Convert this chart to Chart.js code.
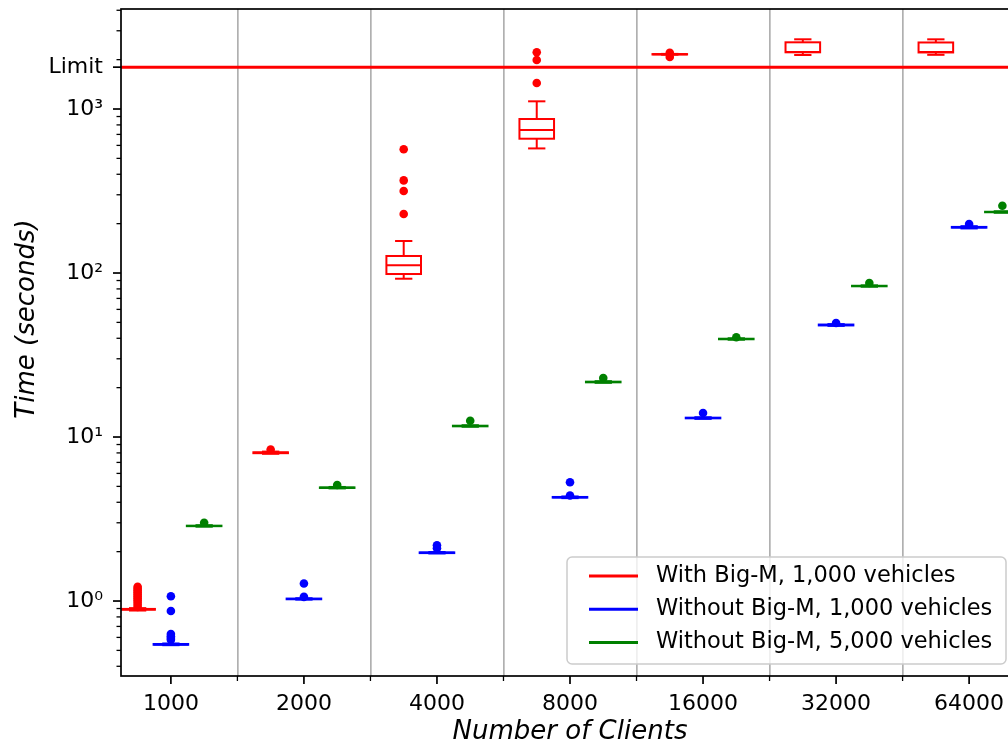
<!DOCTYPE html>
<html>
<head>
<meta charset="utf-8">
<script src="https://cdn.jsdelivr.net/npm/chart.js@4.4.0/dist/chart.umd.min.js"></script>
<style>
  html, body { margin: 0; padding: 0; overflow: hidden; background: #fff; }
  #wrap { width: 1030px; height: 748px; }
</style>
</head>
<body>
<div id="wrap"><canvas id="chart" width="1030" height="748"></canvas></div>
<script>
const clients = ['1000', '2000', '4000', '8000', '16000', '32000', '64000'];
const seriesLabels = ['With Big-M, 1,000 vehicles', 'Without Big-M, 1,000 vehicles', 'Without Big-M, 5,000 vehicles'];
const seriesColors = ['#ff0000', '#0000ff', '#008000'];

// box stats per client count: [whisker low, q1, median, q3, whisker high]
const bigM1000Boxes = [
  [0.875, 0.885, 0.89, 0.895, 0.905],
  [7.9, 7.97, 8.02, 8.07, 8.15],
  [92.3, 98.6, 111.4, 127, 156.7],
  [575, 659, 745, 869, 1114],
  [2145, 2150, 2156, 2162, 2168],
  [2135, 2217, 2230, 2551, 2661],
  [2140, 2212, 2225, 2545, 2660]
];
const noBigM1000Boxes = [
  [0.538, 0.541, 0.544, 0.547, 0.551],
  [1.02, 1.025, 1.03, 1.035, 1.04],
  [1.95, 1.96, 1.97, 1.98, 1.99],
  [4.24, 4.27, 4.29, 4.31, 4.34],
  [12.9, 13.0, 13.06, 13.12, 13.2],
  [47.6, 47.9, 48.2, 48.5, 48.8],
  [187, 189, 190, 191, 193]
];
const noBigM5000Boxes = [
  [2.84, 2.86, 2.87, 2.88, 2.9],
  [4.86, 4.89, 4.91, 4.93, 4.96],
  [11.55, 11.62, 11.67, 11.72, 11.8],
  [21.4, 21.55, 21.65, 21.75, 21.9],
  [39.2, 39.45, 39.6, 39.75, 40.0],
  [82.5, 83.0, 83.3, 83.6, 84.1],
  [233, 234.7, 235.5, 236.3, 238]
];

// outliers (fliers) per client count
const bigM1000Outliers = [
  [0.92, 0.95, 0.98, 1.01, 1.04, 1.07, 1.10, 1.13, 1.16, 1.19, 1.22],
  [8.4],
  [229, 316, 367, 568],
  [1442, 1990, 2218],
  [2200, 2075],
  [],
  []
];
const noBigM1000Outliers = [
  [1.07, 0.87, 0.63, 0.61, 0.595, 0.58],
  [1.28, 1.06],
  [2.19, 2.1],
  [5.3, 4.4],
  [14.0],
  [49.6],
  [199]
];
const noBigM5000Outliers = [
  [3.0], [5.1], [12.57], [22.9], [40.6], [86.9], [257]
];

const limitValue = 1800;
const limitLabel = 'Limit';
const yMajorTicks = [1, 10, 100, 1000];
const yMajorLabels = ['10⁰', '10¹', '10²', '10³'];
const yMin = 0.349, yMax = 4072;

const allBoxes = [bigM1000Boxes, noBigM1000Boxes, noBigM5000Boxes];
const allOutliers = [bigM1000Outliers, noBigM1000Outliers, noBigM5000Outliers];
const offsets = [-0.25, 0, 0.25];
const boxHalf = 0.13;

const yTickValues = [];
for (let e = -1; e <= 3; e++) {
  for (let m = 1; m <= 9; m++) {
    const v = m * Math.pow(10, e);
    if (v >= yMin && v <= yMax) yTickValues.push(v);
  }
}
yTickValues.push(limitValue);

const xTickValues = [];
clients.forEach((c, i) => {
  xTickValues.push(i);
  if (i < clients.length - 1) xTickValues.push(i + 0.5);
});

Chart.defaults.font.family = "'DejaVu Sans', sans-serif";
Chart.defaults.color = '#000';

const datasets = allOutliers.map((groups, s) => ({
  label: seriesLabels[s],
  data: groups.flatMap((vals, i) => vals.map(v => ({ x: i + offsets[s], y: v }))),
  pointRadius: 4.3,
  pointHoverRadius: 4.3,
  pointBackgroundColor: seriesColors[s],
  pointBorderWidth: 0,
  showLine: false
}));

function seg(ctx, x1, y1, x2, y2) {
  ctx.beginPath();
  ctx.moveTo(x1, y1);
  ctx.lineTo(x2, y2);
  ctx.stroke();
}

const boxPlugin = {
  id: 'boxes',
  beforeDatasetsDraw(chart) {
    const { ctx, chartArea: a, scales: { x, y } } = chart;
    ctx.save();
    ctx.beginPath();
    ctx.rect(a.left, a.top, a.right - a.left, a.bottom - a.top);
    ctx.clip();

    // time limit
    ctx.strokeStyle = '#ff0000';
    ctx.lineWidth = 3;
    const ly = y.getPixelForValue(limitValue);
    seg(ctx, a.left, ly, a.right, ly);

    ctx.lineWidth = 2;
    allBoxes.forEach((boxes, s) => {
      ctx.strokeStyle = seriesColors[s];
      boxes.forEach(([lo, q1, med, q3, hi], i) => {
        const pos = i + offsets[s];
        const xc = x.getPixelForValue(pos);
        const xl = x.getPixelForValue(pos - boxHalf);
        const xr = x.getPixelForValue(pos + boxHalf);
        const cl = x.getPixelForValue(pos - boxHalf / 2);
        const cr = x.getPixelForValue(pos + boxHalf / 2);
        const yLo = y.getPixelForValue(lo), yQ1 = y.getPixelForValue(q1);
        const yMed = y.getPixelForValue(med), yQ3 = y.getPixelForValue(q3);
        const yHi = y.getPixelForValue(hi);
        ctx.strokeRect(xl, yQ3, xr - xl, yQ1 - yQ3);
        seg(ctx, xl, yMed, xr, yMed);
        seg(ctx, xc, yQ3, xc, yHi);
        seg(ctx, xc, yQ1, xc, yLo);
        seg(ctx, cl, yHi, cr, yHi);
        seg(ctx, cl, yLo, cr, yLo);
      });
    });
    ctx.restore();
  },
  afterDraw(chart) {
    const { ctx, chartArea: a, scales: { x, y } } = chart;
    ctx.save();

    // tick marks
    ctx.strokeStyle = '#000';
    xTickValues.forEach(v => {
      const major = Number.isInteger(v);
      ctx.lineWidth = major ? 1.7 : 1.3;
      const px = x.getPixelForValue(v);
      seg(ctx, px, a.bottom, px, a.bottom + (major ? 8 : 5));
    });
    yTickValues.forEach(v => {
      const major = yMajorTicks.includes(v) || v === limitValue;
      ctx.lineWidth = major ? 1.7 : 1.3;
      const py = y.getPixelForValue(v);
      seg(ctx, a.left, py, a.left - (major ? 8 : 4.5), py);
    });

    // spines
    ctx.lineWidth = 1.7;
    ctx.strokeRect(a.left, a.top, a.right - a.left, a.bottom - a.top);

    // y title
    ctx.save();
    ctx.translate(27, 319);
    ctx.rotate(-Math.PI / 2);
    ctx.font = "italic 26px 'DejaVu Sans'";
    ctx.fillStyle = '#000';
    ctx.textAlign = 'center';
    ctx.textBaseline = 'middle';
    ctx.fillText('Time (seconds)', 0, 0);
    ctx.restore();

    // legend (lower right inside the axes)
    const lw = 439, lh = 107;
    const lx = a.right - 13 - lw, ly = a.bottom - 12 - lh;
    ctx.beginPath();
    ctx.roundRect(lx, ly, lw, lh, 5);
    ctx.fillStyle = 'rgba(255,255,255,0.8)';
    ctx.fill();
    ctx.strokeStyle = '#cccccc';
    ctx.lineWidth = 1.5;
    ctx.stroke();
    ctx.font = "22.5px 'DejaVu Sans'";
    ctx.textBaseline = 'middle';
    ctx.textAlign = 'left';
    seriesLabels.forEach((label, s) => {
      const ry = ly + 19 + s * 33.3;
      ctx.strokeStyle = seriesColors[s];
      ctx.lineWidth = 3;
      seg(ctx, lx + 22, ry, lx + 71, ry);
      ctx.fillStyle = '#000';
      ctx.fillText(label, lx + 89, ry);
    });
    ctx.restore();
  }
};

new Chart(document.getElementById('chart'), {
  type: 'scatter',
  data: { datasets },
  options: {
    responsive: false,
    animation: false,
    events: [],
    layout: { padding: { left: 0, top: 9, right: 11, bottom: 0 } },
    plugins: {
      legend: { display: false },
      tooltip: { enabled: false }
    },
    scales: {
      x: {
        type: 'linear',
        bounds: 'data',
        min: -0.375,
        max: 6.375,
        afterBuildTicks(scale) {
          scale.ticks = xTickValues.map(v => ({ value: v }));
        },
        afterFit(scale) {
          scale.height = 72;
          scale.paddingLeft = 0;
          scale.paddingRight = 0;
        },
        ticks: {
          autoSkip: false,
          maxRotation: 0,
          padding: 15,
          font: { size: 22 },
          callback: v => Number.isInteger(v) ? clients[v] : ''
        },
        grid: {
          drawTicks: false,
          lineWidth: 1.7,
          color: c => (c.tick && Number.isInteger(c.tick.value)) ? 'rgba(0,0,0,0)' : '#b0b0b0'
        },
        border: { display: false },
        title: {
          display: true,
          text: 'Number of Clients',
          font: { size: 26, style: 'italic' },
          padding: { top: 0, bottom: 0 }
        }
      },
      y: {
        type: 'logarithmic',
        bounds: 'data',
        min: yMin,
        max: yMax,
        afterBuildTicks(scale) {
          scale.ticks = yTickValues.map(v => ({ value: v }));
        },
        afterFit(scale) {
          scale.width = 121;
          scale.paddingTop = 0;
          scale.paddingBottom = 0;
        },
        ticks: {
          autoSkip: false,
          padding: 18,
          font: { size: 22 },
          callback: v => {
            if (v === limitValue) return limitLabel;
            const k = yMajorTicks.indexOf(v);
            return k >= 0 ? yMajorLabels[k] : '';
          }
        },
        grid: { display: false, drawTicks: false },
        border: { display: false }
      }
    }
  },
  plugins: [boxPlugin]
});
</script>
</body>
</html>
